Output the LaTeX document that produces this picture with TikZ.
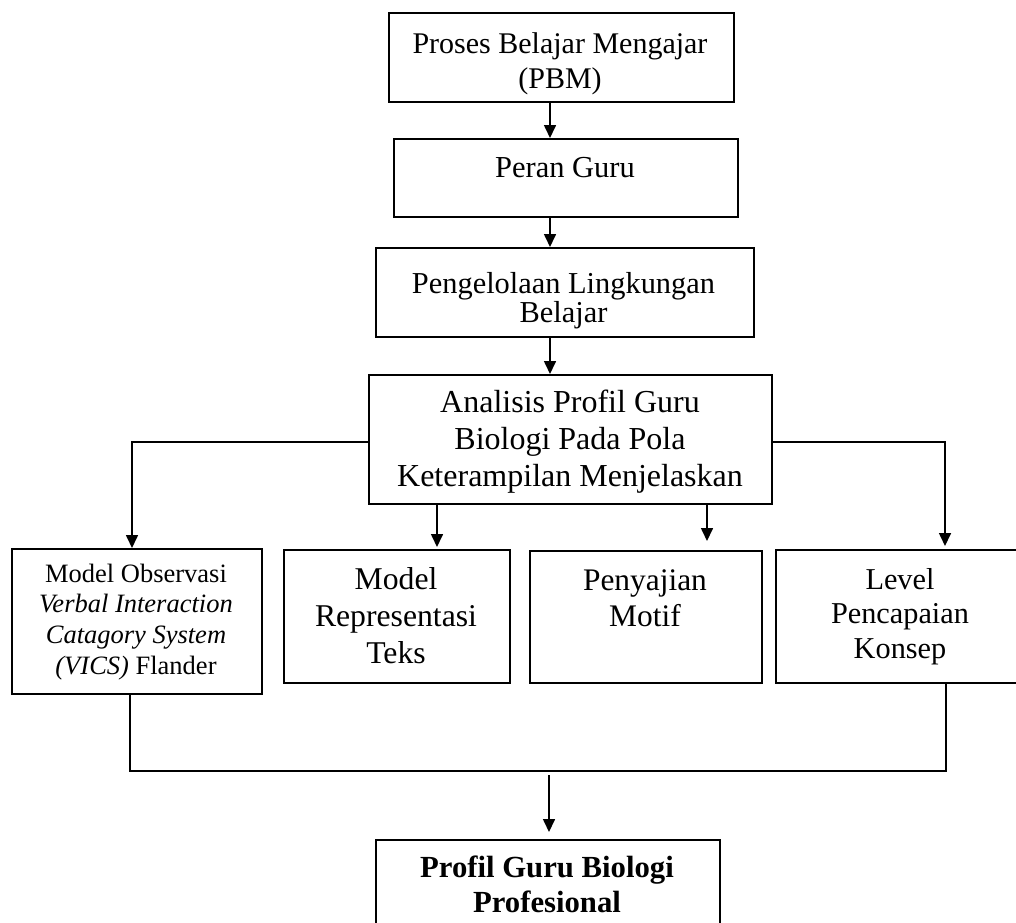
\documentclass[tikz,border=0pt]{standalone}
\usepackage{fontspec}
\setmainfont{Liberation Serif}
\usetikzlibrary{arrows.meta}
\newcommand\boxtext[3]{{\fontsize{#1}{#2}\selectfont\begin{tabular}[t]{@{}c@{}}#3\end{tabular}}}
\begin{document}
\begin{tikzpicture}[x=1pt,y=-1pt,
  box/.style={draw, line width=1.5pt, rectangle, inner sep=0pt, anchor=north west},
  arr/.style={line width=1.6pt, -{Triangle[width=12pt,length=13pt]}},
  lnk/.style={line width=1.6pt},
  txt/.style={anchor=base, inner sep=0pt}]
\useasboundingbox (0,0) rectangle (1016,922);
\clip (0,0) rectangle (1016,922);
% boxes
\node[box, minimum width=345pt, minimum height=89pt] (b1) at (388,12) {};
\node[box, minimum width=344pt, minimum height=78pt] (b2) at (393,138) {};
\node[box, minimum width=378pt, minimum height=89pt] (b3) at (375,247) {};
\node[box, minimum width=403pt, minimum height=129pt] (b4) at (368,374) {};
\node[box, minimum width=250pt, minimum height=145pt] (b5) at (11,548) {};
\node[box, minimum width=226pt, minimum height=133pt] (b6) at (283,549) {};
\node[box, minimum width=232pt, minimum height=132pt] (b7) at (529,550) {};
\node[box, minimum width=245pt, minimum height=133pt] (b8) at (775,549) {};
\node[box, minimum width=344pt, minimum height=120pt] (b9) at (375,839) {};
% texts
\node[txt] (t1) at (560,53) {\boxtext{30}{35}{Proses Belajar Mengajar\\(PBM)}};
\node[txt] (t2) at (565,177) {\boxtext{30.5}{35}{Peran Guru}};
\node[txt] (t3) at (563.5,293) {\boxtext{30.4}{29}{Pengelolaan Lingkungan\\Belajar}};
\node[txt] (t4) at (570,412) {\boxtext{32}{37}{Analisis Profil Guru\\Biologi Pada Pola\\Keterampilan Menjelaskan}};
\node[txt] (t5) at (136,582) {\boxtext{26.5}{30.7}{Model Observasi\\\textit{Verbal Interaction}\\\textit{Catagory System}\\\textit{(VICS)} Flander}};
\node[txt] (t6) at (396,589) {\boxtext{31.7}{37}{Model\\Representasi\\Teks}};
\node[txt] (t7) at (645,590) {\boxtext{31.4}{36}{Penyajian\\Motif}};
\node[txt] (t8) at (900,589) {\boxtext{30.3}{34.5}{Level\\Pencapaian\\Konsep}};
\node[txt] (t9) at (547,877) {\bfseries\boxtext{30.7}{35}{Profil Guru Biologi\\Profesional}};
% helper coordinates
\coordinate (spine) at (550,0);
\coordinate (bl) at (132,442);
\coordinate (brr) at (945,442);
\coordinate (d1) at (437,0);
\coordinate (d2) at (707,0);
\coordinate (ml) at (130,771);
\coordinate (mr) at (946,771);
\coordinate (mj) at (549,775);
% connectors
\draw[arr] (b1.south -| spine) -- (b2.north -| spine);
\draw[arr] (b2.south -| spine) -- (b3.north -| spine);
\draw[arr] (b3.south -| spine) -- (b4.north -| spine);
\draw[arr] (b4.west |- bl) -| (b5.north -| bl);
\draw[arr, shorten >=3pt] (b4.east |- brr) -| (b8.north -| brr);
\draw[arr, shorten >=2pt] (b4.south -| d1) -- (b6.north -| d1);
\draw[arr, shorten >=9pt] (b4.south -| d2) -- (b7.north -| d2);
\draw[lnk] (b5.south -| ml) -- (ml) -- (mr) -- (b8.south -| mr);
\draw[arr, shorten >=7pt] (mj) -- (b9.north -| mj);
\end{tikzpicture}
\end{document}
